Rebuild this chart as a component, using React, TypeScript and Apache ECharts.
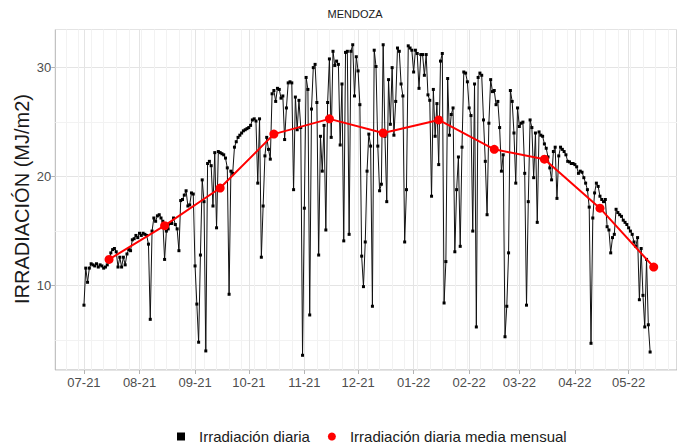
import React, { useEffect, useRef } from 'react';
import * as echarts from 'echarts';

// Daily irradiation (MJ/m2), one value per day starting 2021-07-01
const dailyStart = '2021-07-01';
const julValues = [8.2, 11.6, 10.3, 11.6, 12.0, 11.9, 11.8, 12.0, 11.7, 11.9, 11.8, 11.6, 11.7, 11.9, 12.2, 13.0, 13.3, 13.4, 13.1, 11.7, 12.6, 11.7, 12.6, 11.9, 12.9, 13.3, 13.2, 14.2, 14.3, 14.6, 14.4];
const augValues = [14.8, 14.6, 14.8, 14.7, 14.6, 13.8, 6.9, 15.0, 16.2, 15.9, 16.4, 16.5, 16.2, 15.9, 12.4, 15.0, 15.2, 15.7, 15.7, 16.2, 15.6, 15.2, 13.2, 17.8, 17.9, 18.3, 18.7, 17.3, 17.4, 18.5, 18.4];
const sepValues = [11.8, 8.3, 4.8, 12.8, 19.7, 17.7, 4.0, 21.2, 21.4, 21.0, 17.3, 22.2, 15.3, 22.3, 22.2, 22.1, 22.0, 21.7, 20.8, 9.2, 20.5, 20.3, 22.7, 23.2, 23.6, 23.8, 24.0, 24.2, 24.3, 24.4];
const octValues = [24.5, 24.7, 25.2, 25.3, 25.1, 19.4, 25.3, 12.6, 17.3, 21.9, 23.6, 22.5, 21.6, 27.6, 27.9, 26.9, 28.1, 28.0, 27.2, 27.4, 23.4, 26.3, 28.6, 28.7, 28.6, 18.8, 27.3, 24.3, 27.0, 24.5, 3.6];
const novValues = [17.1, 29.1, 28.0, 7.3, 26.2, 30.0, 30.3, 26.8, 12.8, 23.7, 20.5, 24.7, 15.1, 26.8, 30.8, 23.6, 31.5, 30.2, 30.6, 30.3, 22.9, 28.5, 14.1, 31.4, 31.5, 14.7, 31.5, 32.1, 27.4, 31.0];
const decValues = [29.7, 26.6, 12.7, 9.9, 14.0, 20.5, 23.9, 22.8, 8.1, 31.6, 30.1, 22.8, 18.7, 19.3, 32.1, 23.7, 17.7, 28.9, 24.8, 30.0, 23.8, 26.9, 31.8, 31.5, 28.5, 27.4, 14.0, 18.8, 32.0, 31.8, 31.6];
const janValues = [29.6, 31.6, 31.3, 28.1, 31.2, 31.2, 29.3, 31.2, 27.5, 27.0, 18.2, 28.0, 23.7, 26.7, 21.1, 30.6, 31.3, 8.4, 12.2, 29.0, 23.8, 25.7, 26.3, 13.1, 18.8, 21.8, 13.6, 22.7, 29.6, 29.5, 28.7];
const febValues = [26.3, 25.6, 15.0, 28.5, 6.2, 29.1, 29.5, 29.3, 25.2, 21.4, 16.5, 24.9, 28.9, 27.8, 27.9, 26.6, 26.9, 24.5, 20.5, 22.0, 5.3, 8.1, 13.0, 27.9, 26.9, 24.0, 19.4, 26.3];
const marValues = [24.6, 24.9, 25.0, 20.3, 8.2, 17.7, 25.2, 24.5, 19.9, 24.0, 15.8, 24.1, 23.8, 23.7, 23.0, 22.6, 21.8, 20.8, 19.7, 22.3, 22.7, 18.0, 21.9, 22.7, 22.5, 22.3, 22.0, 21.4, 21.35, 21.2, 21.2];
const aprValues = [21.1, 20.9, 20.3, 20.5, 20.4, 19.9, 19.4, 18.8, 17.2, 4.7, 16.2, 18.5, 19.4, 19.1, 18.2, 17.9, 17.7, 17.9, 15.4, 15.1, 13.0, 14.4, 14.7, 17.0, 16.7, 16.5, 16.35, 16.0, 15.8, 15.6];
const mayValues = [15.3, 15.0, 14.7, 14.0, 13.6, 14.4, 8.7, 13.4, 9.1, 6.2, 12.4, 6.4, 3.9];

// Monthly mean of the daily irradiation, plotted mid-month
const monthlyDates = ['2021-07-15', '2021-08-15', '2021-09-15', '2021-10-15', '2021-11-15', '2021-12-15', '2022-01-15', '2022-02-15', '2022-03-15', '2022-04-15', '2022-05-15'];
const monthlyMeans = [12.4, 15.5, 18.95, 23.9, 25.3, 24.0, 25.2, 22.5, 21.6, 17.1, 11.7];

// Axis extent (dates) and y tick labels
const axisStart = '2021-06-15';
const axisEnd = '2022-05-28';
const yTickLabels = [10, 20, 30];

const seriesDaily = 'Irradiación diaria';
const seriesMean = 'Irradiación diaria media mensual';
const FONT = "'Liberation Sans', Arial, Helvetica, sans-serif";

const addDays = (iso: string, n: number) => {
  const d = new Date(iso + 'T00:00:00Z');
  d.setUTCDate(d.getUTCDate() + n);
  return d.toISOString().slice(0, 10);
};

const buildCategories = () => {
  const out: string[] = [];
  let cur = axisStart;
  while (cur <= axisEnd) {
    out.push(cur);
    cur = addDays(cur, 1);
  }
  return out;
};

export default function App() {
  const ref = useRef<HTMLDivElement>(null);

  useEffect(() => {
    if (!ref.current) return;
    const chart = echarts.init(ref.current, undefined, { renderer: 'svg' });
    const categories = buildCategories();
    const allDaily = [
      ...julValues, ...augValues, ...sepValues, ...octValues, ...novValues, ...decValues,
      ...janValues, ...febValues, ...marValues, ...aprValues, ...mayValues,
    ];
    const dailyData = allDaily.map((v, i) => [addDays(dailyStart, i), v]);
    const meanData = monthlyDates.map((d, i) => [d, monthlyMeans[i]]);

    const isMonthStart = (_i: number, v: string) => typeof v === 'string' && v.endsWith('-01');
    const isMonday = (_i: number, v: string) => new Date(v + 'T00:00:00Z').getUTCDay() === 1;

    const left = 55.3;
    const step = 1.7928;
    const width = (categories.length - 1) * step;

    chart.setOption({
      animation: false,
      backgroundColor: '#ffffff',
      textStyle: { fontFamily: FONT },
      grid: {
        left,
        top: 29.5,
        width,
        height: 340.5,
        show: true,
        borderColor: '#b3b3b3',
        borderWidth: 1,
        backgroundColor: '#ffffff',
      },
      xAxis: [
        {
          type: 'category',
          data: categories,
          boundaryGap: false,
          axisLine: { show: false },
          axisTick: { show: true, interval: isMonthStart, length: 4, lineStyle: { color: '#b3b3b3', width: 1 } },
          axisLabel: {
            interval: isMonthStart,
            margin: 6,
            color: '#4d4d4d',
            fontSize: 13,
            fontFamily: FONT,
            formatter: (v: string) => `${v.slice(5, 7)}-${v.slice(2, 4)}`,
          },
          splitLine: { show: true, interval: isMonthStart, lineStyle: { color: '#e4e4e4', width: 1 } },
          z: 1,
        },
        {
          type: 'category',
          data: categories,
          boundaryGap: false,
          position: 'top',
          axisLine: { show: false },
          axisTick: { show: false },
          axisLabel: { show: false },
          splitLine: { show: true, interval: isMonday, lineStyle: { color: '#f2f2f2', width: 1 } },
          z: 0,
        },
      ],
      yAxis: {
        type: 'value',
        min: 2.25,
        max: 33.5,
        splitNumber: 3,
        minInterval: 10,
        maxInterval: 10,
        axisLine: { show: false },
        axisTick: { show: true, length: 4, lineStyle: { color: '#b3b3b3', width: 1 } },
        axisLabel: {
          margin: 4,
          color: '#4d4d4d',
          fontSize: 13,
          fontFamily: FONT,
          showMinLabel: false,
          showMaxLabel: false,
          formatter: (v: number) => (yTickLabels.includes(Math.round(v * 100) / 100) ? String(v) : ''),
        },
        splitLine: { show: true, lineStyle: { color: '#e4e4e4', width: 1 } },
        minorTick: { show: false, splitNumber: 2 },
        minorSplitLine: { show: true, lineStyle: { color: '#f2f2f2', width: 1 } },
      },
      legend: {
        left: 177,
        top: 429,
        padding: 0,
        itemWidth: 8,
        itemHeight: 8,
        itemGap: 18,
        selectedMode: false,
        textStyle: { fontSize: 15, color: '#1a1a1a', fontFamily: FONT, padding: [0, 0, 0, 9] },
        data: [
          { name: seriesDaily, icon: 'rect' },
          { name: seriesMean, icon: 'circle' },
        ],
      },
      graphic: [
        {
          type: 'text',
          x: 355,
          y: 14,
          style: { text: 'MENDOZA', align: 'center', verticalAlign: 'middle', fontSize: 11, fill: '#1a1a1a', fontFamily: FONT },
        },
        {
          type: 'text',
          x: 22,
          y: 199,
          rotation: Math.PI / 2,
          style: { text: 'IRRADIACIÓN (MJ/m2)', align: 'center', verticalAlign: 'middle', fontSize: 20, fill: '#1a1a1a', fontFamily: FONT },
        },
      ],
      series: [
        {
          name: seriesDaily,
          type: 'line',
          data: dailyData,
          xAxisIndex: 0,
          symbol: 'rect',
          symbolSize: 3,
          showSymbol: true,
          showAllSymbol: true,
          itemStyle: { color: '#000000' },
          lineStyle: { color: '#111111', width: 1 },
          z: 2,
        },
        {
          name: seriesMean,
          type: 'line',
          data: meanData,
          xAxisIndex: 0,
          symbol: 'circle',
          symbolSize: 9,
          showSymbol: true,
          showAllSymbol: true,
          itemStyle: { color: '#ff0000' },
          lineStyle: { color: '#ff0000', width: 2 },
          z: 3,
        },
      ],
    });
    return () => chart.dispose();
  }, []);

  return (
    <div style={{ position: 'fixed', left: 0, top: 0, width: 677, height: 445, background: '#fff', overflow: 'hidden' }}>
      <div ref={ref} style={{ width: 677, height: 445 }} />
    </div>
  );
}
